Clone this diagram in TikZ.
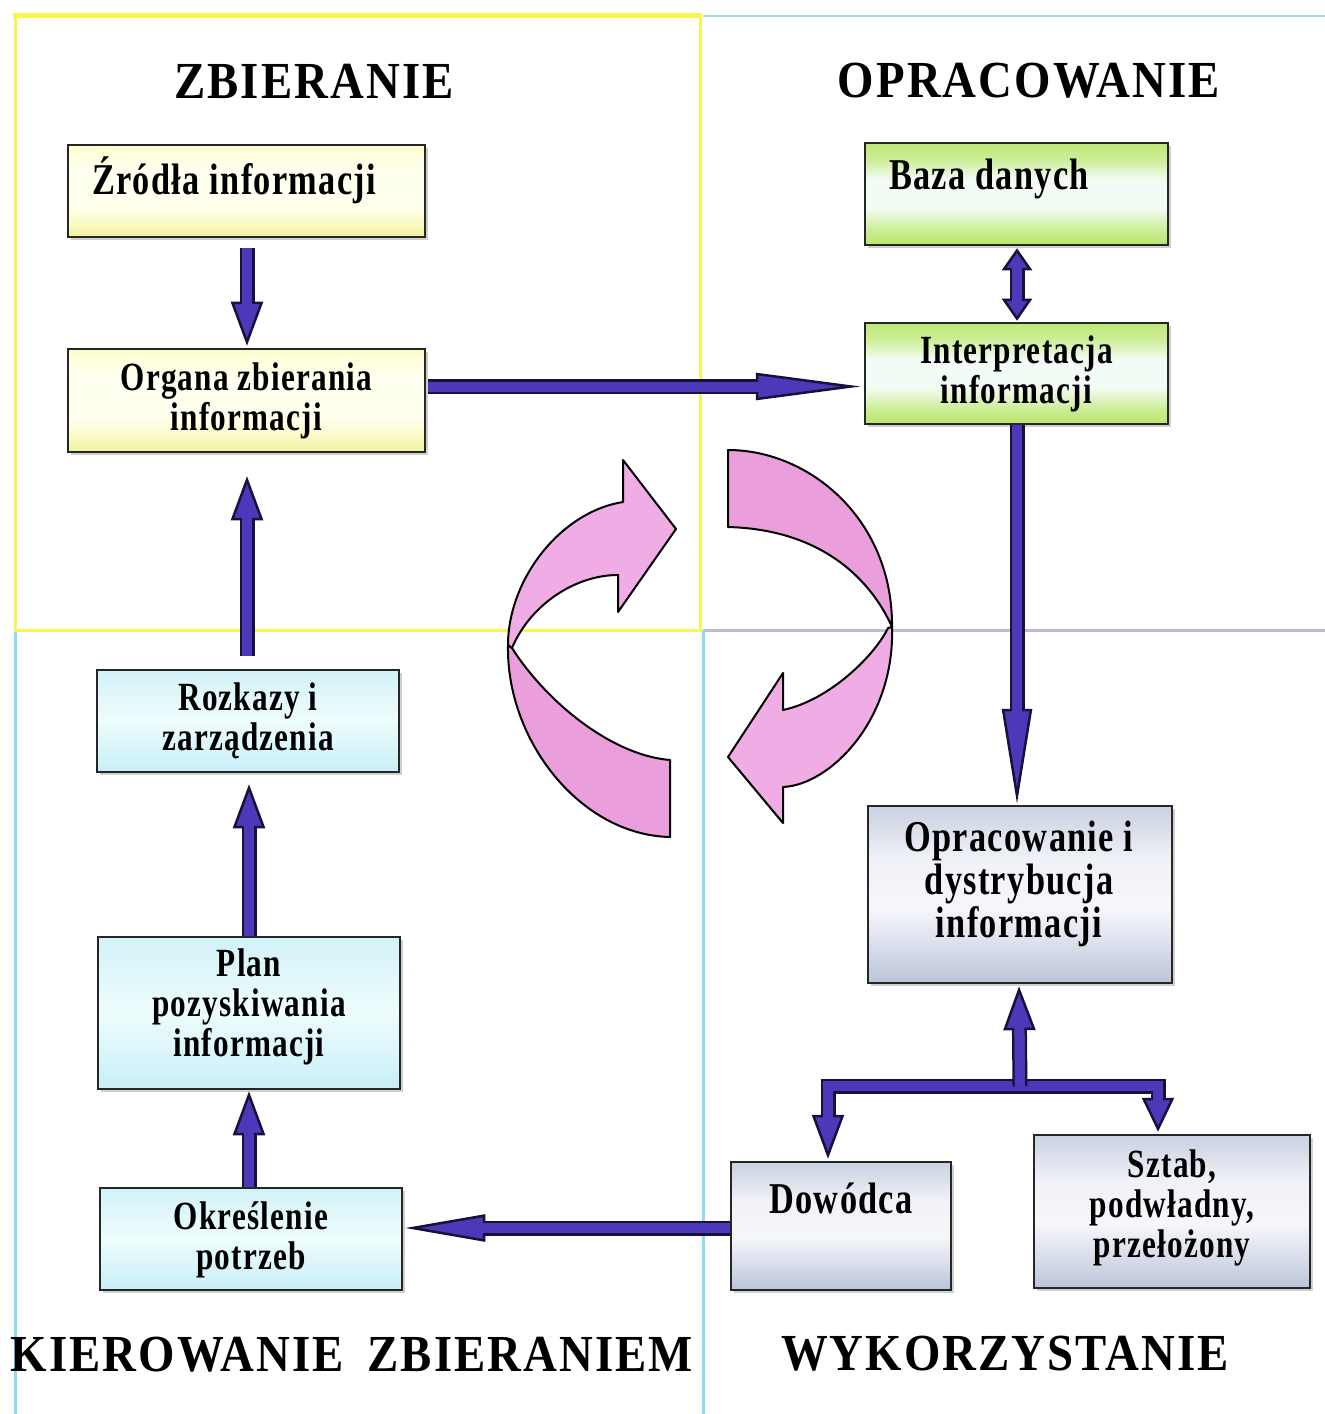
\documentclass[tikz,border=0pt]{standalone}
\usepackage{fontspec}
\setmainfont{Liberation Serif}[FakeStretch=0.78,LetterSpace=3]
\newfontfamily\headfont{Liberation Serif}[FakeStretch=0.9,LetterSpace=4]
\usetikzlibrary{arrows.meta,calc,shadows}

% frame colours
\definecolor{quadyellow}{RGB}{250,244,80}
\definecolor{quadcyan}{RGB}{140,220,245}
\definecolor{quadteal}{RGB}{160,228,210}
\definecolor{quadgray}{RGB}{185,190,215}
% connector colours
\definecolor{arrowfill}{RGB}{78,56,186}
\definecolor{arrowline}{RGB}{22,18,60}
% cycle ribbons
\definecolor{ribbon}{RGB}{240,172,228}
\definecolor{ribbondark}{RGB}{234,158,219}

% box shadings, listed from bottom to top; a filled path spans 25bp..75bp
\pgfdeclareverticalshading{yellowshade}{100bp}{%
  color(0bp)=(rgb,255:red,240;green,240;blue,155);
  color(25bp)=(rgb,255:red,240;green,240;blue,155);
  color(31bp)=(rgb,255:red,248;green,248;blue,190);
  color(41bp)=(rgb,255:red,255;green,255;blue,236);
  color(61bp)=(rgb,255:red,255;green,255;blue,240);
  color(69bp)=(rgb,255:red,255;green,255;blue,222);
  color(75bp)=(rgb,255:red,252;green,252;blue,205);
  color(100bp)=(rgb,255:red,252;green,252;blue,205)}
\pgfdeclareverticalshading{greenshade}{100bp}{%
  color(0bp)=(rgb,255:red,185;green,230;blue,110);
  color(25bp)=(rgb,255:red,185;green,230;blue,110);
  color(32bp)=(rgb,255:red,202;green,237;blue,145);
  color(43bp)=(rgb,255:red,242;green,251;blue,244);
  color(57bp)=(rgb,255:red,242;green,251;blue,246);
  color(67bp)=(rgb,255:red,205;green,238;blue,150);
  color(75bp)=(rgb,255:red,190;green,232;blue,120);
  color(100bp)=(rgb,255:red,190;green,232;blue,120)}
\pgfdeclareverticalshading{cyanshade}{100bp}{%
  color(0bp)=(rgb,255:red,200;green,238;blue,246);
  color(25bp)=(rgb,255:red,200;green,238;blue,246);
  color(35bp)=(rgb,255:red,215;green,244;blue,250);
  color(50bp)=(rgb,255:red,238;green,252;blue,252);
  color(65bp)=(rgb,255:red,222;green,246;blue,250);
  color(75bp)=(rgb,255:red,210;green,242;blue,248);
  color(100bp)=(rgb,255:red,210;green,242;blue,248)}
\pgfdeclareverticalshading{grayshade}{100bp}{%
  color(0bp)=(rgb,255:red,186;green,197;blue,217);
  color(25bp)=(rgb,255:red,186;green,197;blue,217);
  color(34bp)=(rgb,255:red,212;green,218;blue,232);
  color(46bp)=(rgb,255:red,246;green,247;blue,250);
  color(60bp)=(rgb,255:red,240;green,242;blue,248);
  color(69bp)=(rgb,255:red,216;green,221;blue,233);
  color(75bp)=(rgb,255:red,202;green,209;blue,226);
  color(100bp)=(rgb,255:red,202;green,209;blue,226)}

\tikzset{
  box/.style={draw=black!85, line width=2.5bp, inner sep=0pt,
    drop shadow={shadow xshift=3bp, shadow yshift=-3bp, opacity=0.3, fill=black!60}},
  yellowbox/.style={box, shading=yellowshade},
  greenbox/.style={box, shading=greenshade},
  cyanbox/.style={box, shading=cyanshade},
  graybox/.style={box, shading=grayshade},
  boxtext/.style={font=\fontsize{40bp}{40bp}\selectfont\bfseries, align=center, inner sep=0pt},
  bigtext/.style={boxtext, font=\fontsize{44bp}{43bp}\selectfont\bfseries},
  heading/.style={font=\headfont\fontsize{52bp}{56bp}\selectfont\bfseries, inner sep=0pt},
  fatout/.style={draw=arrowline, line width=15bp, line join=miter},
  fatin/.style={draw=arrowfill, line width=10bp, line join=miter},
  ribbonline/.style={draw=black, line width=2bp, line join=round},
  HdStd/.tip={Triangle[length=44bp,width=32bp,fill=arrowfill,color=arrowline,line width=2.5bp]},
  HdSmall/.tip={Triangle[length=34bp,width=32bp,fill=arrowfill,color=arrowline,line width=2.5bp]},
  HdShort/.tip={Triangle[length=22bp,width=30bp,fill=arrowfill,color=arrowline,line width=2.5bp]},
  HdLongH/.tip={Triangle[length=105bp,width=27bp,fill=arrowfill,color=arrowline,line width=2.5bp]},
  HdLongV/.tip={Triangle[length=95bp,width=30bp,fill=arrowfill,color=arrowline,line width=2.5bp]},
  HdMid/.tip={Triangle[length=80bp,width=27bp,fill=arrowfill,color=arrowline,line width=2.5bp]},
}

% thick outlined connector: #1 shortening, #2 tips, #3 path
\newcommand\fatarrow[3]{%
  \draw[fatout,#1] #3;
  \draw[fatin,#2] #3;
  \draw[fatin,#1] #3;}

\begin{document}
\begin{tikzpicture}[x=1bp,y=-1bp]
\useasboundingbox[fill=white] (0,0) rectangle (1325,1414);

% quadrant frames
\draw[quadteal, line width=2bp] (703,16) -- (1325,16);
\draw[quadgray, line width=3bp] (703,630) -- (1325,630);
\draw[quadcyan, line width=3bp] (15,630) -- (15,1414);
\draw[quadcyan, line width=3bp] (703,630) -- (703,1414);
\draw[quadyellow, line width=3bp] (15,16) rectangle (700,630);
\draw[quadyellow, line width=5bp] (13,16) -- (702,16);

% headings
\node[heading] (hzb) at (314,81) {ZBIERANIE};
\node[heading] (hop) at (1029,81) {OPRACOWANIE};
\node[heading] (hkz) at (352,1355) {KIEROWANIE\hspace{0.45em}ZBIERANIEM};
\node[heading] (hwy) at (1005,1354) {WYKORZYSTANIE};

% cycle ribbons, left one
\path[ribbonline, fill=ribbondark]
  (508,645) .. controls (506,740) and (580,835) .. (670,837)
  -- (670,760) .. controls (610,755) and (545,700) .. (512,648) -- cycle;
\path[ribbonline, fill=ribbon]
  (508,645) .. controls (508,580) and (560,512) .. (623,502)
  -- (623,460) -- (676,529) -- (618,612) -- (618,575)
  .. controls (575,575) and (530,605) .. (512,648) -- cycle;
% cycle ribbons, right one
\path[ribbonline, fill=ribbondark]
  (728,450) .. controls (810,450) and (893,520) .. (892,627)
  .. controls (880,600) and (840,530) .. (728,527) -- cycle;
\path[ribbonline, fill=ribbon]
  (892,627) .. controls (895,720) and (830,785) .. (783,787)
  -- (783,823) -- (728,757) -- (783,673) -- (783,710)
  .. controls (830,700) and (875,655) .. (888,628) -- cycle;

% boxes
\node[yellowbox, minimum width=357bp, minimum height=92bp] (zrodla) at (246.5,191) {};
\node[yellowbox, minimum width=357bp, minimum height=103bp] (organa) at (246.5,400.5) {};
\node[cyanbox, minimum width=302bp, minimum height=102bp] (roz) at (248,721) {};
\node[cyanbox, minimum width=302bp, minimum height=152bp] (plan) at (249,1013) {};
\node[cyanbox, minimum width=302bp, minimum height=102bp] (okr) at (251,1239) {};
\node[greenbox, minimum width=303bp, minimum height=102bp] (baza) at (1016.5,194) {};
\node[greenbox, minimum width=303bp, minimum height=101bp] (interp) at (1016.5,373.5) {};
\node[graybox, minimum width=304bp, minimum height=177bp] (opr) at (1020,894.5) {};
\node[graybox, minimum width=220bp, minimum height=128bp] (dow) at (841,1226) {};
\node[graybox, minimum width=276bp, minimum height=153bp] (sztab) at (1172,1211.5) {};

% box texts
\node[bigtext, anchor=west] (zrodla-t) at (92,180) {Źródła informacji};
\node[boxtext] (organa-t) at (246.5,401) {Organa zbierania\\informacji};
\node[boxtext] (roz-t) at (248,721) {Rozkazy i\\zarządzenia};
\node[boxtext] (plan-t) at (249,1007) {Plan\\pozyskiwania\\informacji};
\node[boxtext] (okr-t) at (251,1240) {Określenie\\potrzeb};
\node[bigtext, anchor=west] (baza-t) at (889,179) {Baza danych};
\node[boxtext] (interp-t) at (1016.5,374) {Interpretacja\\informacji};
\node[bigtext] (opr-t) at (1019,884) {Opracowanie i\\dystrybucja\\informacji};
\node[bigtext] (dow-t) at (841,1198) {Dowódca};
\node[boxtext] (sztab-t) at (1172,1208) {Sztab,\\podwładny,\\przełożony};

% connectors
\coordinate (h1) at ($(organa.east)+(2,-14)$);
\coordinate (fork) at ($(opr.south)+(0,102)$);
\coordinate (h2) at ($(dow.west)+(0,2)$);

\fatarrow{shorten >=40bp}{-HdStd}{($(zrodla.south)+(0.5,10)$) -- ($(organa.north)+(0.5,-2)$)}
\fatarrow{shorten >=100bp}{-HdLongH}{(h1) -- ($(h1 -| interp.west)+(-3,0)$)}
\fatarrow{shorten <=18bp, shorten >=18bp}{HdShort-HdShort}{($(baza.south)+(0.5,2)$) -- ($(interp.north)+(0.5,-1)$)}
\fatarrow{shorten >=90bp}{-HdLongV}{($(interp.south)+(0.5,0)$) -- ($(interp.south |- opr.north)+(0.5,-1)$)}
\fatarrow{shorten <=30bp, shorten >=40bp}{HdSmall-HdStd}{($(sztab.north)+(-14,-2)$) |- (fork) -| ($(dow.north)+(-13,-2)$)}
\fatarrow{shorten >=40bp}{-HdStd}{(fork) -- ($(opr.south)+(-1,2)$)}
\fatarrow{shorten >=76bp}{-HdMid}{(h2) -- ($(h2 -| okr.east)+(2,0)$)}
\fatarrow{shorten >=40bp}{-HdStd}{($(okr.north)+(-2,0)$) -- ($(okr.north |- plan.south)+(-2,1)$)}
\fatarrow{shorten >=40bp}{-HdStd}{(plan.north) -- ($(plan.north |- roz.south)+(0,11)$)}
\fatarrow{shorten >=40bp}{-HdStd}{($(roz.north)+(-1,-13)$) -- ($(roz.north |- organa.south)+(-1,23)$)}

\end{tikzpicture}
\end{document}
